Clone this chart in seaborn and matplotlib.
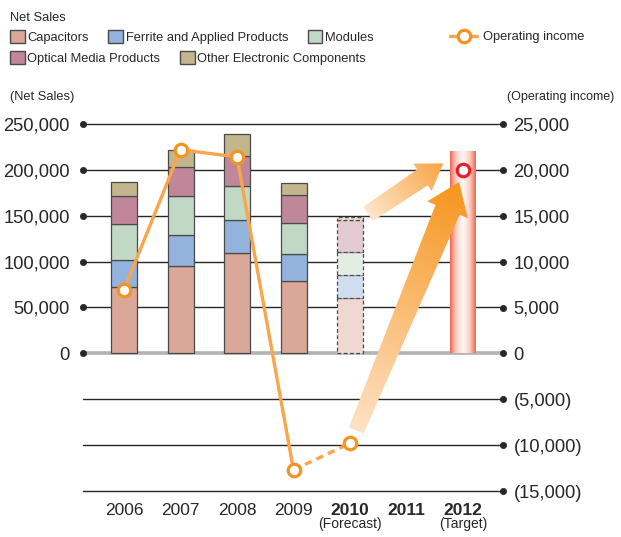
import numpy as np
import matplotlib
matplotlib.use("Agg")
import matplotlib.pyplot as plt
from matplotlib.patches import Polygon, Patch
from matplotlib.lines import Line2D
from matplotlib.colors import LinearSegmentedColormap, to_rgb
import seaborn as sns

# ---- data ----
years = ['2006', '2007', '2008', '2009', '2010', '2011', '2012']
sub_labels = {'2010': '(Forecast)', '2012': '(Target)'}
segments = ['Capacitors', 'Ferrite and Applied Products', 'Modules',
            'Optical Media Products', 'Other Electronic Components']
capacitors = [72800, 95700, 109500, 79400, 60400]
ferrite = [29500, 33100, 35400, 29000, 24800]
modules = [38500, 42200, 37700, 33200, 25400]
optical = [30700, 32300, 32400, 31200, 34600]
other = [15800, 18900, 24100, 13100, 3600]
sales_target_2012 = 220500

op_income = [6900, 22200, 21400, -12700, -9800]
op_target_2012 = 20000

seg_colors = ['#daa898', '#94b3dc', '#c0d8c4', '#c0879b', '#c4b68c']
line_col = '#f9a54c'
mark_col = '#f39323'
txt_col = '#2a2627'

W, H = 621, 537

sns.set_theme(style='white')
plt.rcParams['font.family'] = ['Liberation Sans', 'DejaVu Sans']
plt.rcParams['text.color'] = txt_col

fig = plt.figure(figsize=(W / 100, H / 100), dpi=100)
ax = fig.add_axes([83 / W, 1 - 491 / H, (503 - 83) / W, (491 - 124) / H])
ax2 = ax.twinx()
ax.set_zorder(0)
ax2.set_zorder(1)

for s in list(ax.spines.values()) + list(ax2.spines.values()):
    s.set_visible(False)

ax.set_xlim(-0.726, 6.708)
ax.set_ylim(-150000, 250000)
ax2.set_ylim(-15000, 25000)

# ---- stacked sales bars ----
x_sales = np.arange(len(capacitors))
bottom = np.zeros(len(capacitors))
bw = 0.46
for name, vals, col in zip(segments, [capacitors, ferrite, modules, optical, other], seg_colors):
    bars = ax.bar(x_sales, vals, bottom=bottom, width=bw, color=col,
                  edgecolor='#4a4a4a', lw=0.9, zorder=3, label=name)
    # forecast year: pale fill and dashed outline
    light = tuple(0.45 * np.array(to_rgb(col)) + 0.55)
    bars[-1].set_facecolor(light)
    bars[-1].set_linestyle((0, (3, 2)))
    bottom += np.array(vals)

# target bar with red edge gradient
tb = ax.bar(6, sales_target_2012, width=bw, color='none', edgecolor='none', zorder=3)
grad_cmap = LinearSegmentedColormap.from_list('tg', ['#fff8f6', '#fbc8bc', '#ee6450'])
g = np.abs(np.linspace(-1, 1, 200))[None, :] ** 1.2
im = ax.imshow(g, cmap=grad_cmap, extent=(6 - bw / 2, 6 + bw / 2, 0, sales_target_2012),
               aspect='auto', interpolation='bicubic', zorder=3)
im.set_clip_path(tb[0])
ax.set_xlim(-0.726, 6.708)
ax.set_ylim(-150000, 250000)

# ---- grid (behind bars) ----
grid_vals = np.arange(-150000, 250001, 50000)
ax.set_yticks(grid_vals)
ax.set_yticklabels([f'{v:,}' if v >= 0 else '' for v in grid_vals])
ax.grid(axis='y', color=txt_col, lw=1.0, zorder=0)
ax.grid(axis='x', visible=False)
ax.set_axisbelow(True)
for v, gl in zip(grid_vals, ax.yaxis.get_gridlines()):
    gl.set_clip_on(False)
    if v == 0:
        gl.set_color('#b3b3b3')
        gl.set_linewidth(2.6)

ax.tick_params(axis='y', left=True, length=4.5, width=0.5, pad=5,
               labelsize=13.2, labelcolor=txt_col, color=txt_col)
for v, t in zip(grid_vals, ax.yaxis.get_major_ticks()):
    t.tick1line.set_marker('o')
    t.tick1line.set_markerfacecolor(txt_col)
    t.tick1line.set_markeredgecolor(txt_col)
    if v < 0:
        t.tick1line.set_visible(False)

# right axis
op_ticks = np.arange(-15000, 25001, 5000)
ax2.set_yticks(op_ticks)
ax2.set_yticklabels([f'{v:,}' if v >= 0 else f'({-v:,})' for v in op_ticks])
ax2.grid(False)
ax2.tick_params(axis='y', right=True, length=4.5, width=0.5, pad=3,
                labelsize=13.2, labelcolor=txt_col, color=txt_col)
for t in ax2.yaxis.get_major_ticks():
    t.tick2line.set_marker('o')
    t.tick2line.set_markerfacecolor(txt_col)
    t.tick2line.set_markeredgecolor(txt_col)

# x labels
ax.set_xticks(range(len(years)))
ax.set_xticklabels(years)
ax.tick_params(axis='x', bottom=False, length=0, pad=8.5, labelsize=12.5, labelcolor=txt_col)
for lab in ax.get_xticklabels():
    if lab.get_text() in ('2010', '2011', '2012'):
        lab.set_fontweight('bold')
for i, yr in enumerate(years):
    if yr in sub_labels:
        ax.annotate(sub_labels[yr], xy=(i, 0), xycoords=('data', 'axes fraction'),
                    xytext=(0, -23.5), textcoords='offset points',
                    ha='center', va='center', fontsize=10, color=txt_col)
ax.set_xlabel('')
ax.set_ylabel('')
ax2.set_ylabel('')

# ---- operating income line ----
x_op = np.arange(len(op_income))
sns.lineplot(x=x_op[:4], y=op_income[:4], ax=ax2, color=line_col, lw=2.4, zorder=4)
sns.lineplot(x=x_op[3:], y=op_income[3:], ax=ax2, color=line_col, lw=2.4,
             linestyle=(0, (2.2, 1.6)), zorder=4)
ax2.plot(x_op, op_income, ls='none', marker='o', ms=9, mfc='white', mec=mark_col,
         mew=2.3, zorder=5)
ax2.plot([6], [op_target_2012], ls='none', marker='o', ms=9, mfc='white', mec='#e8202a',
         mew=2.3, zorder=5)
ax2.set_ylim(-15000, 25000)

# ---- gradient arrows (overlay in pixel space) ----
ov = fig.add_axes([0, 0, 1, 1], zorder=0.5)
ov.set_xlim(0, W)
ov.set_ylim(0, H)
ov.axis('off')
ov.patch.set_visible(False)


def to_px(xd, yd):
    return ax.transData.transform((xd, yd))


def grad_arrow(tail, tip, w_tail, w_base, head_w, head_len, c0, c1):
    T = np.array(tail, float)
    P = np.array(tip, float)
    L = np.linalg.norm(P - T)
    u = (P - T) / L
    n = np.array([-u[1], u[0]])
    B = P - u * head_len
    pts = [T + n * w_tail / 2, B + n * w_base / 2, B + n * head_w / 2, P,
           B - n * head_w / 2, B - n * w_base / 2, T - n * w_tail / 2]
    poly = Polygon(pts, closed=True, facecolor='none', edgecolor='none')
    ov.add_patch(poly)
    X, Y = np.meshgrid(np.arange(W) + 0.5, np.arange(H) + 0.5)
    t = np.clip(((X - T[0]) * u[0] + (Y - T[1]) * u[1]) / L, 0, 1)[..., None]
    rgb = np.array(to_rgb(c0)) * (1 - t) + np.array(to_rgb(c1)) * t
    img = ov.imshow(rgb, extent=(0, W, 0, H), origin='lower', interpolation='nearest',
                    aspect='auto')
    img.set_clip_path(poly)


grad_arrow(to_px(4.32, 152000), to_px(5.65, 207000), 17, 19, 33, 25, '#fde6cc', '#f8a443')
grad_arrow(to_px(4.11, -84000), to_px(5.93, 186700), 16, 26, 44, 30, '#fde3c6', '#f7941d')
ov.set_xlim(0, W)
ov.set_ylim(0, H)

# ---- legends and axis captions ----
fig.text(10 / W, 1 - 18 / H, 'Net Sales', fontsize=9.3, va='center', ha='left')
handles = [Patch(facecolor=c, edgecolor='#4a4a4a', lw=1, label=s)
           for s, c in zip(segments, seg_colors)]
leg_kw = dict(loc='upper left', frameon=False, fontsize=9.3, handlelength=1.15,
              handleheight=1.15, handletextpad=0.2, columnspacing=1.5,
              borderaxespad=0, borderpad=0, labelcolor=txt_col)
fig.legend(handles=handles[:3], ncol=3, bbox_to_anchor=(10 / W, 1 - 30 / H), **leg_kw)
fig.legend(handles=handles[3:], ncol=2, bbox_to_anchor=(10 / W, 1 - 51 / H), **leg_kw)
op_handle = Line2D([], [], color=line_col, lw=2.4, marker='o', ms=9, mfc='white',
                   mec=mark_col, mew=2.3, label='Operating income')
fig.legend(handles=[op_handle], loc='upper left', frameon=False, fontsize=9.3,
           handlelength=2.1, handletextpad=0.45, borderaxespad=0, borderpad=0,
           bbox_to_anchor=(450 / W, 1 - 31 / H), labelcolor=txt_col)

fig.text(10 / W, 1 - 97 / H, '(Net Sales)', fontsize=9.3, va='center', ha='left')
fig.text(507 / W, 1 - 97 / H, '(Operating income)', fontsize=9, va='center', ha='left')

fig.savefig('out.png', dpi=100)
